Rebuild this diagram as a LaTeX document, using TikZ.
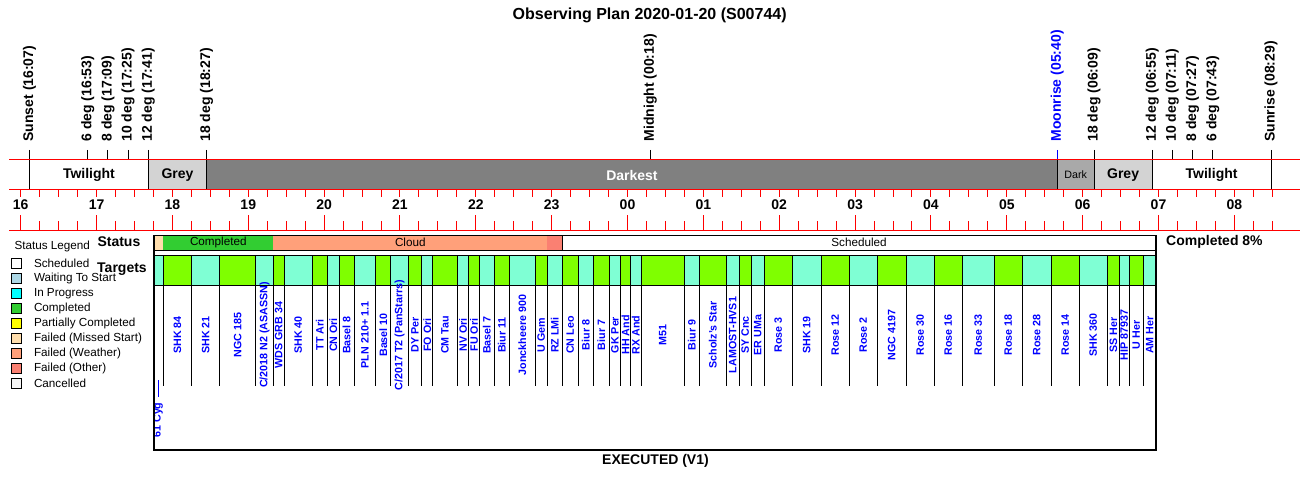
\documentclass[tikz,border=0pt]{standalone}
\usepackage{fontspec}
\setmainfont{Liberation Sans}
\definecolor{bandgrey}{HTML}{D3D3D3}
\definecolor{banddark}{HTML}{A9A9A9}
\definecolor{banddarkest}{HTML}{808080}
\definecolor{tgtgreen}{HTML}{7FFF00}
\definecolor{tgtaqua}{HTML}{7FFFD4}
\definecolor{stwait}{HTML}{ADD8E6}
\definecolor{stprog}{HTML}{00FFFF}
\definecolor{stdone}{HTML}{32CD32}
\definecolor{stpart}{HTML}{FFFF00}
\definecolor{stmissed}{HTML}{FFDEAD}
\definecolor{stweather}{HTML}{FFA07A}
\definecolor{stother}{HTML}{FA8072}
\definecolor{stcancel}{HTML}{F5F5F5}
\tikzset{
  bigbold/.style={font=\fontsize{14}{16}\selectfont\bfseries, inner sep=0pt},
  evtlabel/.style={bigbold, rotate=90, anchor=west},
  tgtlabel/.style={font=\fontsize{10.7}{12}\selectfont\bfseries, text=blue, rotate=90, inner sep=0pt},
  smalltext/.style={font=\fontsize{11.7}{13}\selectfont, inner sep=0pt},
  axisline/.style={red, line width=1pt}
}
\begin{document}
\begin{tikzpicture}[x=1pt,y=-1pt,line width=1pt]
  \useasboundingbox (0,0) rectangle (1300,481);
  \node[font=\fontsize{16}{18}\selectfont\bfseries] (title) at (649.7,15) {Observing Plan 2020-01-20 (S00744)};
  % time axis, x in minutes after 16:00
  \begin{scope}[xshift=20.7pt, x=1.2642pt]
    \fill[bandgrey] (101,160) rectangle (147,190);
    \fill[banddarkest] (147,160) rectangle (820,190);
    \fill[banddark] (820,160) rectangle (849,190);
    \fill[bandgrey] (849,160) rectangle (895,190);
    \node[bigbold] (twi1) at (54,175) {Twilight};
    \node[bigbold] (grey1) at (124,175) {Grey};
    \node[bigbold, text=white] (darkest) at (483.5,175) {Darkest};
    \node[font=\fontsize{10.7}{12}\selectfont, inner sep=0pt] (dark) at (834.5,175) {Dark};
    \node[bigbold] (grey2) at (872,175) {Grey};
    \node[bigbold] (twi2) at (942,175) {Twilight};
    \foreach \m/\lab/\c/\d [count=\e] in {7/Sunset (16:07)/black/1, 53/6 deg (16:53)/black/0,
        69/8 deg (17:09)/black/0, 85/10 deg (17:25)/black/0, 101/12 deg (17:41)/black/1,
        147/18 deg (18:27)/black/1, 498/Midnight (00:18)/black/0, 820/Moonrise (05:40)/blue/1,
        849/18 deg (06:09)/black/1, 895/12 deg (06:55)/black/1, 911/10 deg (07:11)/black/0,
        927/8 deg (07:27)/black/0, 943/6 deg (07:43)/black/0, 989/Sunrise (08:29)/black/1} {
      \draw[\c] (\m,150) -- (\m,160);
      \ifnum\d=1 \draw (\m,160) -- (\m,190); \fi
      \node[evtlabel, text=\c] (evt\e) at (\m,142) {\lab};
    }
    \foreach \m in {0,15,...,990} {
      \draw[axisline] (\m,190) -- (\m,197);
      \draw[axisline] (\m,221) -- (\m,230);
    }
    \foreach \m/\h in {0/16,60/17,120/18,180/19,240/20,300/21,360/22,420/23,480/00,
        540/01,600/02,660/03,720/04,780/05,840/06,900/07,960/08} {
      \draw[axisline] (\m,215) -- (\m,230);
      \node[bigbold] (hr\h) at (\m,204.5) {\h};
    }
  \end{scope}
  \draw[axisline] (9.3,160) -- (1300,160);
  \draw[axisline] (9.3,190) -- (1300,190);
  \draw[axisline] (9.3,230) -- (1300,230);
  % legend
  \node[smalltext, anchor=west] (legend) at (14,246) {Status Legend};
  \foreach \c/\lab [count=\k] in {white/Scheduled, stwait/Waiting To Start, stprog/In Progress,
      stdone/Completed, stpart/Partially Completed, stmissed/Failed (Missed Start),
      stweather/Failed (Weather), stother/Failed (Other), stcancel/Cancelled} {
    \draw[fill=\c] (11.7,{248.3+15*\k-5}) rectangle (21.7,{248.3+15*\k+5});
    \node[smalltext, anchor=west] (leg\k) at (33.5,{248.3+15*\k}) {\lab};
  }
  % status row
  \fill[stmissed] (154,235) rectangle (163.3,250);
  \fill[stdone] (163.3,235) rectangle (273.3,250);
  \fill[stweather] (273.3,235) rectangle (547.3,250);
  \fill[stother] (547.3,235) rectangle (562.3,250);
  \draw (562.3,235) rectangle (1156,250);
  \draw (154,235) -- (1156,235);
  \draw (154,250) -- (1156,250);
  \node[smalltext] (stdone) at (218.3,242.5) {Completed};
  \node[smalltext] (stcloud) at (410.3,242.5) {Cloud};
  \node[smalltext] (stsched) at (859,242.5) {Scheduled};
  \node[bigbold, anchor=west] (status) at (97,241.5) {Status};
  \node[bigbold, anchor=west] (targets) at (96.7,269) {Targets};
  \node[bigbold, anchor=west] (pct) at (1165.7,242.3) {Completed 8\%};
  % targets
  \foreach \xa/\xb/\lab [count=\i] in {154/163.3/61 Cyg, 163.3/191.7/SHK 84, 191.7/219.7/SHK 21,
      219.7/255.7/NGC 185, 255.7/273.3/{C/2018 N2 (ASASSN)}, 273.3/284.3/WDS GRB 34,
      284.3/312.3/SHK 40, 312.3/327.3/TT Ari, 327.3/339.3/CN Ori, 339.3/354/Basel 8,
      354/375.7/PLN 210+ 1.1, 375.7/390.7/Basel 10, 390.7/408.3/{C/2017 T2 (PanStarrs)},
      408.3/421.7/DY Per, 421.7/432.7/FO Ori, 432.7/457.3/CM Tau, 457.3/468.7/NV Ori,
      468.7/479.3/FU Ori, 479.3/494.3/Basel 7, 494.3/509.3/Biur 11, 509.3/535.3/Jonckheere 900,
      535.3/547.3/U Gem, 547.3/562.3/RZ LMi, 562.3/578.3/CN Leo, 578.3/593.3/Biur 8,
      593.3/609.3/Biur 7, 609.3/620.7/GK Per, 620.7/630.3/HH And, 630.3/641.3/RX And,
      641.3/684.3/M51, 684.3/699.3/Biur 9, 699.3/726.3/Scholz's Star, 726.3/739.3/LAMOST-HVS1,
      739.3/751.3/SY Cnc, 751.3/764.3/ER UMa, 764.3/792.3/Rose 3, 792.3/821.3/SHK 19,
      821.3/849.3/Rose 12, 849.3/877.3/Rose 2, 877.3/906/NGC 4197, 906/934.3/Rose 30,
      934.3/962.3/Rose 16, 962.3/994.3/Rose 33, 994.3/1022.3/Rose 18, 1022.3/1051.3/Rose 28,
      1051.3/1079.3/Rose 14, 1079.3/1107.3/SHK 360, 1107.3/1119.3/SS Her,
      1119.3/1129.3/HIP 87937, 1129.3/1143.3/U Her, 1143.3/1156/AM Her} {
    \ifodd\i \def\cc{tgtaqua}\else \def\cc{tgtgreen}\fi
    \draw[fill=\cc] (\xa,255) rectangle (\xb,285);
    \draw (\xb,285) -- (\xb,385.7);
    \ifnum\i>1 \node[tgtlabel] (tgt\i) at ({(\xa+\xb)/2},335) {\lab}; \fi
  }
  \draw[blue] (158.3,380) -- (158.3,397.3);
  \node[tgtlabel] (tgt1) at (158,420) {61 Cyg};
  % frame
  \draw[line width=2pt] (154,235) -- (154,450) -- (1156,450) -- (1156,235);
  \node[bigbold] (executed) at (655.5,461) {EXECUTED (V1)};
\end{tikzpicture}
\end{document}
